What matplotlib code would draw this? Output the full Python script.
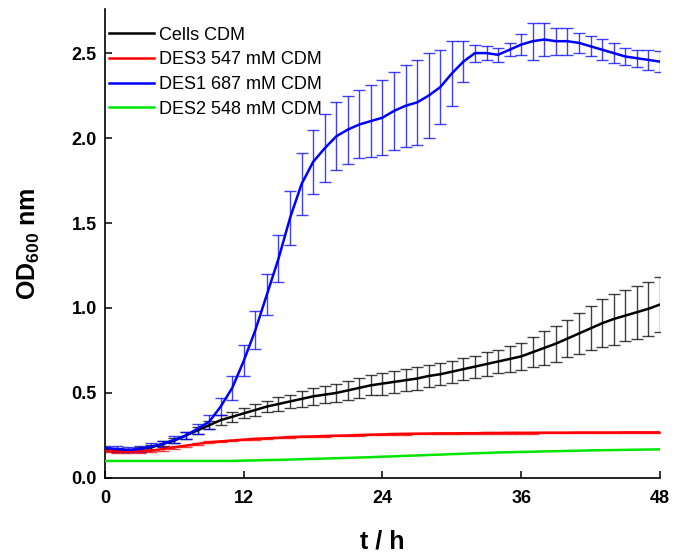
import numpy as np
import matplotlib
matplotlib.use("Agg")
from matplotlib import pyplot as plt

# OD600 growth curves, one reading per hour
zaman = list(range(0, 49))

cells_od = [0.17, 0.165, 0.16, 0.17, 0.18, 0.20, 0.22, 0.25, 0.28, 0.31,
            0.34, 0.36, 0.38, 0.40, 0.42, 0.435, 0.45, 0.465, 0.48, 0.49,
            0.50, 0.515, 0.53, 0.545, 0.555, 0.565, 0.575, 0.585, 0.60, 0.61,
            0.625, 0.64, 0.655, 0.67, 0.685, 0.70, 0.715, 0.74, 0.765, 0.79,
            0.82, 0.85, 0.88, 0.91, 0.935, 0.955, 0.975, 0.995, 1.02]
cells_err = [0.01, 0.01, 0.01, 0.01, 0.015, 0.015, 0.015, 0.02, 0.02, 0.025,
             0.03, 0.03, 0.03, 0.035, 0.035, 0.04, 0.04, 0.045, 0.05, 0.05,
             0.055, 0.055, 0.06, 0.06, 0.065, 0.065, 0.065, 0.065, 0.065, 0.065,
             0.065, 0.065, 0.065, 0.07, 0.07, 0.075, 0.08, 0.09, 0.10, 0.105,
             0.11, 0.12, 0.13, 0.14, 0.15, 0.152, 0.155, 0.158, 0.16]

des3_od = [0.16, 0.155, 0.155, 0.155, 0.16, 0.17, 0.18, 0.19, 0.20, 0.21,
           0.215, 0.22, 0.225, 0.23, 0.233, 0.236, 0.24, 0.242, 0.244, 0.246,
           0.248, 0.25, 0.252, 0.254, 0.256, 0.258, 0.259, 0.26, 0.261, 0.262,
           0.262, 0.263, 0.263, 0.264, 0.264, 0.265, 0.265, 0.265, 0.266, 0.266,
           0.266, 0.267, 0.267, 0.267, 0.267, 0.268, 0.268, 0.268, 0.268]
des3_err = [0.01, 0.01, 0.01, 0.01, 0.01, 0.01, 0.008, 0.006, 0.005, 0.005,
            0.005, 0.005, 0.004, 0.004, 0.004, 0.004, 0.004, 0.004, 0.004, 0.004,
            0.004, 0.004, 0.004, 0.004, 0.004, 0.004, 0.004, 0.004, 0.004, 0.004,
            0.004, 0.004, 0.004, 0.004, 0.004, 0.004, 0.004, 0.004, 0.004, 0.004,
            0.004, 0.004, 0.004, 0.004, 0.004, 0.004, 0.004, 0.004, 0.004]

des1_od = [0.175, 0.17, 0.165, 0.17, 0.185, 0.20, 0.225, 0.25, 0.29, 0.33,
           0.42, 0.53, 0.69, 0.87, 1.08, 1.29, 1.53, 1.73, 1.86, 1.94,
           2.01, 2.05, 2.08, 2.10, 2.12, 2.16, 2.19, 2.21, 2.25, 2.30,
           2.38, 2.45, 2.50, 2.50, 2.49, 2.52, 2.55, 2.57, 2.58, 2.57,
           2.57, 2.56, 2.54, 2.52, 2.50, 2.48, 2.47, 2.46, 2.45]
des1_err = [0.015, 0.015, 0.015, 0.015, 0.02, 0.02, 0.02, 0.02, 0.03, 0.04,
            0.05, 0.07, 0.09, 0.11, 0.12, 0.14, 0.16, 0.18, 0.19, 0.20,
            0.20, 0.20, 0.20, 0.21, 0.22, 0.23, 0.24, 0.25, 0.25, 0.22,
            0.19, 0.12, 0.05, 0.04, 0.04, 0.04, 0.06, 0.11, 0.10, 0.08,
            0.08, 0.06, 0.06, 0.06, 0.06, 0.05, 0.05, 0.06, 0.06]

des2_od = [0.10, 0.10, 0.10, 0.10, 0.10, 0.10, 0.10, 0.10, 0.10, 0.10,
           0.10, 0.10, 0.102, 0.103, 0.105, 0.106, 0.108, 0.110, 0.112, 0.114,
           0.116, 0.118, 0.120, 0.122, 0.125, 0.127, 0.130, 0.132, 0.135, 0.137,
           0.140, 0.142, 0.145, 0.147, 0.150, 0.151, 0.153, 0.154, 0.156, 0.157,
           0.159, 0.160, 0.162, 0.163, 0.164, 0.165, 0.166, 0.167, 0.168]

seriler = [
    ("Cells CDM", cells_od, cells_err, "black"),
    ("DES3 547 mM CDM", des3_od, des3_err, "#ff0000"),
    ("DES1 687 mM CDM", des1_od, des1_err, "#0000ff"),
    ("DES2 548 mM CDM", des2_od, None, "#00e600"),
]

plt.rcParams["font.family"] = ["Liberation Sans", "DejaVu Sans"]
plt.rcParams["mathtext.fontset"] = "custom"
plt.rcParams["mathtext.bf"] = "Liberation Sans:bold"
plt.rcParams["mathtext.rm"] = "Liberation Sans"

fig = plt.figure(figsize=(6.74, 5.57), dpi=100)
ax = fig.add_axes([0.156, 0.142, 0.823, 0.842])

for ad, od, err, renk in seriler:
    if err is not None:
        ax.errorbar(zaman, od, yerr=err, fmt="none", ecolor=renk, elinewidth=1.0,
                    capsize=4, capthick=1.0, alpha=0.75, zorder=2)
    ax.plot(zaman, od, color=renk, lw=1.8, label=ad, zorder=3)

ax.set_xlim(0, 48)
ax.set_ylim(0, 2.76)
ax.set_xticks([0, 12, 24, 36, 48])
ax.set_yticks([0.0, 0.5, 1.0, 1.5, 2.0, 2.5])
ax.set_yticklabels(["0.0", "0.5", "1.0", "1.5", "2.0", "2.5"])

for s in ["top", "right"]:
    ax.spines[s].set_visible(False)
for s in ["left", "bottom"]:
    ax.spines[s].set_linewidth(1.2)

ax.tick_params(axis="both", direction="in", length=5, width=1.1, labelsize=13)
ax.tick_params(axis="y", pad=6)
ax.tick_params(axis="x", pad=9)
for lab in ax.get_xticklabels() + ax.get_yticklabels():
    lab.set_fontweight("bold")

ax.set_xlabel("t / h", fontsize=18, fontweight="bold", labelpad=16)
ax.set_ylabel(r"$\mathbf{OD_{600}}$ $\mathbf{nm}$", fontsize=18, labelpad=21)

ax.legend(loc="upper left", bbox_to_anchor=(-0.012, 0.985), frameon=False,
          fontsize=13, handlelength=2.45, handletextpad=0.3, labelspacing=0.42,
          borderaxespad=0.2)

fig.savefig("out.png", dpi=100)
